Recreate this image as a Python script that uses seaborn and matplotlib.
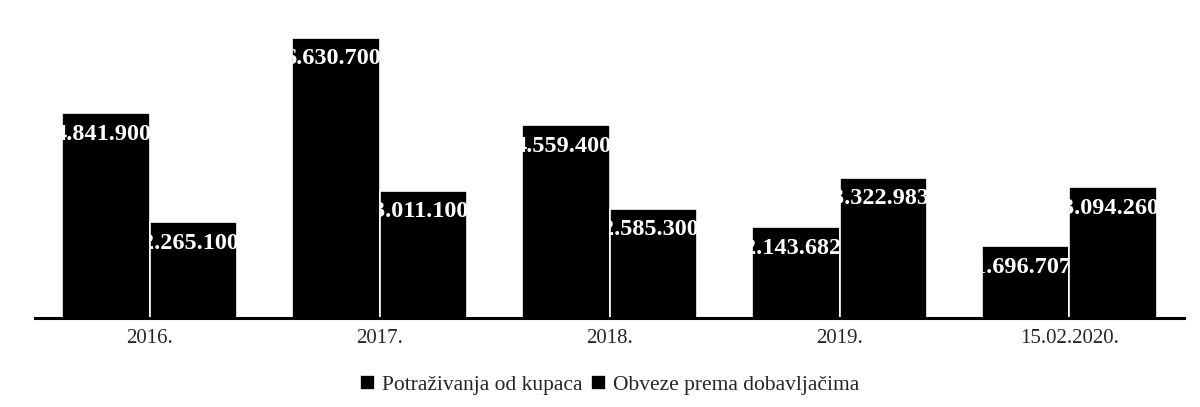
import pandas as pd
import matplotlib
matplotlib.use("Agg")
import matplotlib.pyplot as plt
import seaborn as sns

categories = ["2016.", "2017.", "2018.", "2019.", "15.02.2020."]
potrazivanja = [4841900, 6630700, 4559400, 2143682, 1696707]
obveze = [2265100, 3011100, 2585300, 3322983, 3094260]
series_names = ["Potraživanja od kupaca", "Obveze prema dobavljačima"]


def fmt(v):
    return f"{v:,}".replace(",", ".")


def main():
    sns.set_theme(style="white")
    plt.rcParams["font.family"] = ["Liberation Serif", "DejaVu Serif"]

    df = pd.DataFrame({
        "godina": categories * 2,
        "iznos": potrazivanja + obveze,
        "serija": [series_names[0]] * len(categories) + [series_names[1]] * len(categories),
    })

    fig = plt.figure(figsize=(12, 4.07), dpi=100)
    ax = fig.add_axes([0.029, 0.219, 0.958, 0.726])

    sns.barplot(data=df, x="godina", y="iznos", hue="serija",
                palette=["black", "black"], width=0.76, gap=0.0,
                edgecolor="white", linewidth=1.2, ax=ax)

    # value labels, clipped to their own bar like in the original
    for cont, vals in zip(ax.containers, [potrazivanja, obveze]):
        for patch, v in zip(cont, vals):
            x = patch.get_x() + patch.get_width() / 2
            t = ax.annotate(fmt(v), (x, patch.get_height()), xytext=(-3, -21),
                            textcoords="offset pixels", ha="center", va="center",
                            color="white", fontsize=17.5, fontweight="bold")
            t.set_clip_path(patch)

    ax.set_ylim(0, 7000000)
    ax.set_xlim(-0.5, 4.5)
    ax.set_yticks([])
    ax.set_xlabel("")
    ax.set_ylabel("")
    for s in ["top", "right", "left"]:
        ax.spines[s].set_visible(False)
    ax.spines["bottom"].set_linewidth(2.2)
    ax.spines["bottom"].set_color("black")
    ax.tick_params(axis="x", length=0, pad=8, labelsize=15)

    handles, labels = ax.get_legend_handles_labels()
    ax.legend(handles, labels, loc="center", bbox_to_anchor=(0.5, -0.228),
              ncol=2, frameon=False, fontsize=15.5, handlelength=0.7,
              handleheight=0.7, handletextpad=0.3, columnspacing=0.4)

    fig.savefig("out.png", dpi=100, facecolor="white")


if __name__ == "__main__":
    main()
